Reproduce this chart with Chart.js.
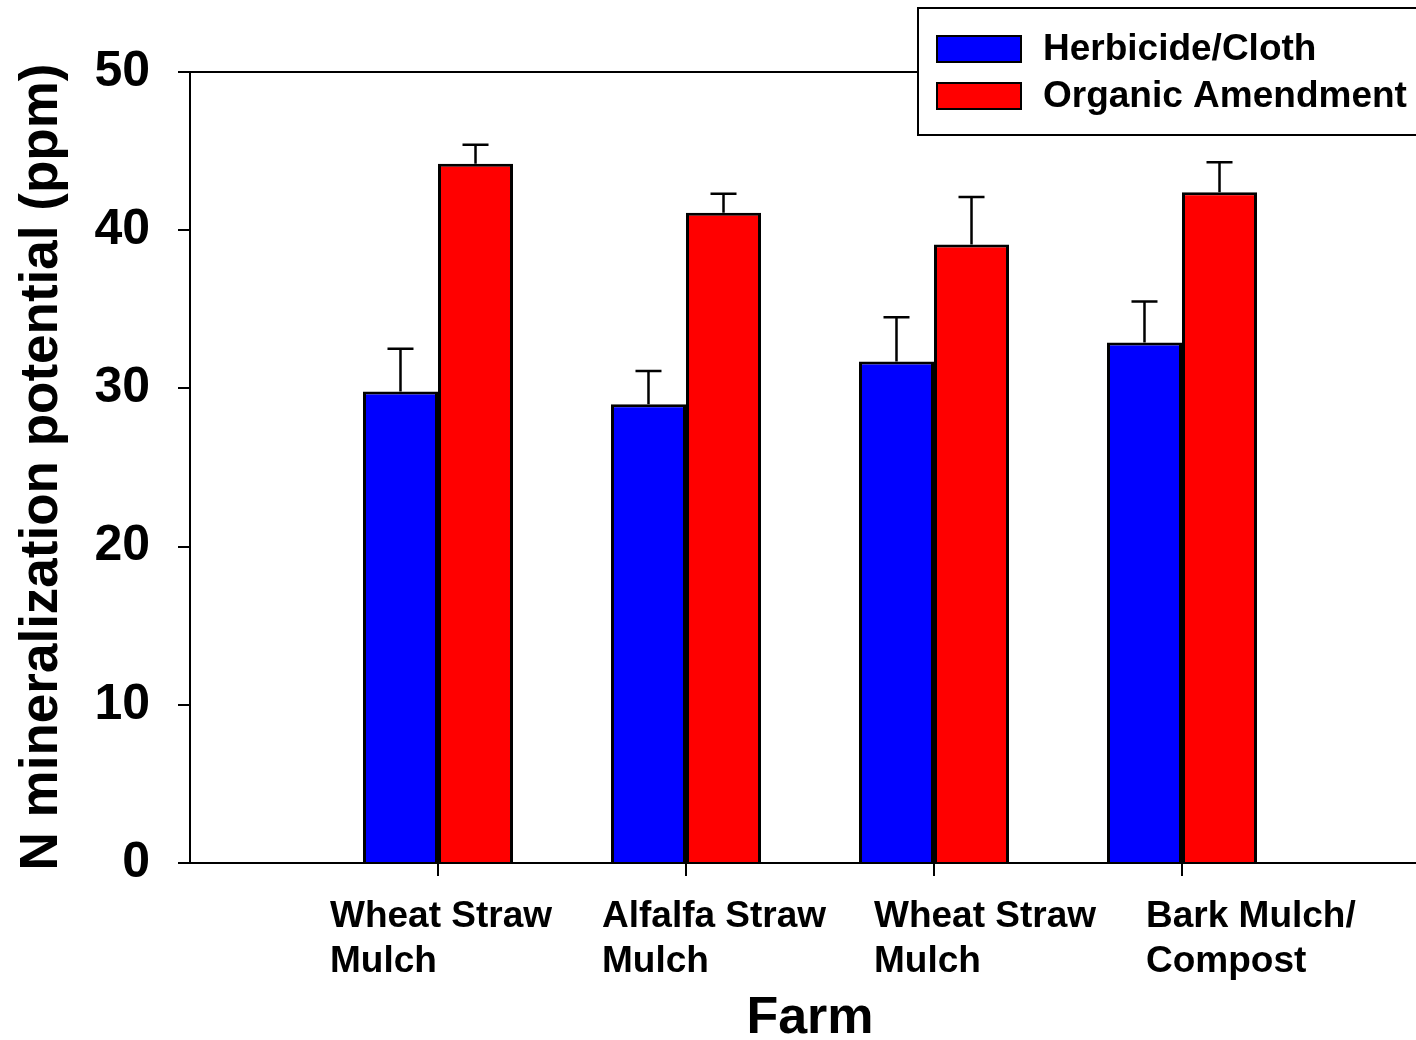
<!DOCTYPE html>
<html>
<head>
<meta charset="utf-8">
<script src="https://cdn.jsdelivr.net/npm/chart.js@4.4.1/dist/chart.umd.min.js"></script>
<style>
  html, body { margin: 0; padding: 0; background: #fff; overflow: hidden; }
  #wrap { width: 1416px; height: 1040px; }
</style>
</head>
<body>
<div id="wrap"><canvas id="chart" width="1416" height="1040"></canvas></div>
<script>
const farms = [["Wheat Straw", "Mulch"], ["Alfalfa Straw", "Mulch"], ["Wheat Straw", "Mulch"], ["Bark Mulch/", "Compost"]];
const herbicide = [29.8, 29.0, 31.7, 32.9];
const herbicideErr = [2.7, 2.1, 2.8, 2.6];
const organic = [44.2, 41.1, 39.1, 42.4];
const organicErr = [1.2, 1.2, 3.0, 1.9];
const yTicks = [0, 10, 20, 30, 40, 50];

const FONT = "'Liberation Sans', Arial, Helvetica, sans-serif";
const errors = [herbicideErr, organicErr];

const errorBars = {
  id: "errorBars",
  afterDatasetsDraw(chart) {
    const { ctx, scales: { y } } = chart;
    ctx.save();
    ctx.strokeStyle = "#000";
    ctx.lineWidth = 2.5;
    chart.data.datasets.forEach((ds, di) => {
      const meta = chart.getDatasetMeta(di);
      meta.data.forEach((bar, i) => {
        const top = y.getPixelForValue(ds.data[i].y + errors[di][i]);
        ctx.beginPath();
        ctx.moveTo(bar.x, bar.y);
        ctx.lineTo(bar.x, top);
        ctx.moveTo(bar.x - 13, top);
        ctx.lineTo(bar.x + 13, top);
        ctx.stroke();
      });
    });
    ctx.restore();
  }
};

const decorations = {
  id: "decorations",
  afterDraw(chart) {
    const { ctx, chartArea } = chart;
    ctx.save();
    // top frame line
    ctx.strokeStyle = "#000";
    ctx.lineWidth = 2;
    ctx.beginPath();
    ctx.moveTo(chartArea.left, chartArea.top);
    ctx.lineTo(chartArea.right, chartArea.top);
    ctx.stroke();

    // x category labels, left aligned blocks
    ctx.fillStyle = "#000";
    ctx.font = "bold 37px " + FONT;
    ctx.textAlign = "left";
    ctx.textBaseline = "alphabetic";
    farms.forEach((lines, i) => {
      const left = 330 + 272 * i;
      lines.forEach((line, j) => ctx.fillText(line, left, 927 + j * 45));
    });

    // axis titles
    ctx.textAlign = "center";
    ctx.textBaseline = "middle";
    ctx.font = "bold 52px " + FONT;
    ctx.fillText("Farm", 810, 1019);
    ctx.save();
    ctx.translate(42, 467);
    ctx.rotate(-Math.PI / 2);
    ctx.font = "bold 53px " + FONT;
    ctx.fillText("N mineralization potential (ppm)", 0, 0);
    ctx.restore();

    // legend
    ctx.fillStyle = "#fff";
    ctx.fillRect(918, 8, 520, 127);
    ctx.strokeStyle = "#000";
    ctx.lineWidth = 2;
    ctx.strokeRect(918, 8, 520, 127);
    chart.data.datasets.forEach((ds, i) => {
      const cy = 49 + i * 47;
      ctx.fillStyle = ds.backgroundColor;
      ctx.fillRect(937, cy - 13, 84, 26);
      ctx.strokeRect(937, cy - 13, 84, 26);
      ctx.fillStyle = "#000";
      ctx.font = "bold 37px " + FONT;
      ctx.textAlign = "left";
      ctx.fillText(ds.label, 1043, cy + 1);
    });
    ctx.restore();
  }
};

new Chart(document.getElementById("chart"), {
  type: "bar",
  data: {
    datasets: [
      {
        label: "Herbicide/Cloth",
        data: herbicide.map((v, i) => ({ x: i + 1, y: v })),
        backgroundColor: "#0000ff",
        borderColor: "#000",
        borderWidth: 3
      },
      {
        label: "Organic Amendment",
        data: organic.map((v, i) => ({ x: i + 1, y: v })),
        backgroundColor: "#ff0000",
        borderColor: "#000",
        borderWidth: 3
      }
    ]
  },
  options: {
    responsive: false,
    animation: false,
    categoryPercentage: 0.605,
    barPercentage: 1,
    layout: { padding: { top: 72, right: 0, left: 0, bottom: 0 } },
    plugins: { legend: { display: false }, tooltip: { enabled: false } },
    scales: {
      x: {
        type: "linear",
        offset: false,
        min: 0,
        max: 1226 / 248,
        afterBuildTicks: s => { s.ticks = farms.map((f, i) => ({ value: i + 1 })); },
        afterFit: s => { s.height = 177; },
        ticks: { display: false },
        grid: { offset: false, drawOnChartArea: false, drawTicks: true, tickLength: 13, color: "#000", lineWidth: 2 },
        border: { display: true, color: "#000", width: 2 }
      },
      y: {
        min: 0,
        max: 50,
        afterBuildTicks: s => { s.ticks = yTicks.map(v => ({ value: v })); },
        afterFit: s => { s.width = 190; },
        ticks: { color: "#000", padding: 28, font: { family: FONT, size: 50, weight: "bold" } },
        grid: { drawOnChartArea: false, drawTicks: true, tickLength: 12, color: "#000", lineWidth: 2 },
        border: { display: true, color: "#000", width: 2 }
      }
    }
  },
  plugins: [errorBars, decorations]
});
</script>
</body>
</html>
